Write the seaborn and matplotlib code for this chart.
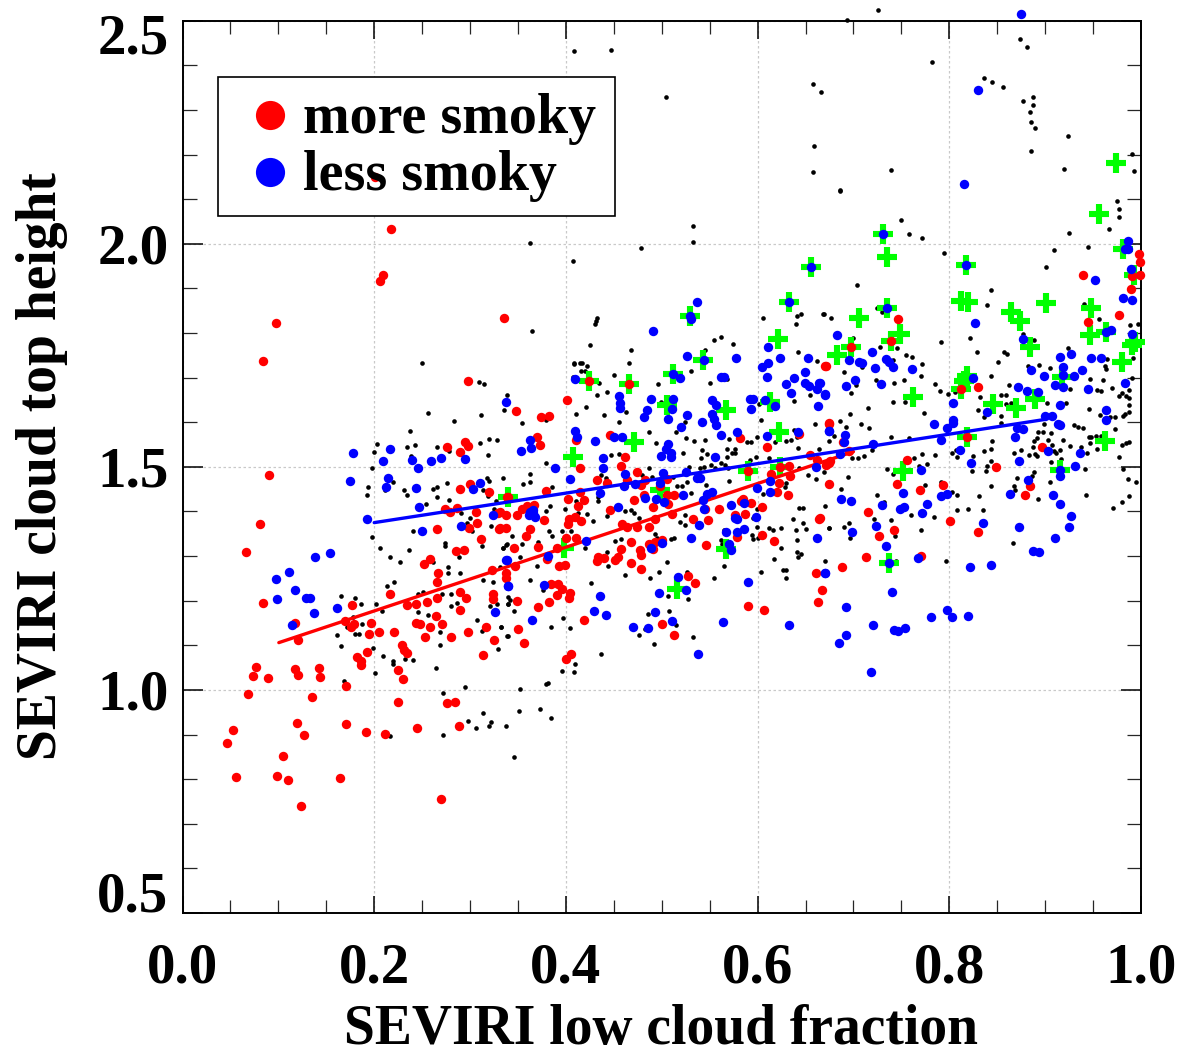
import matplotlib
matplotlib.use("Agg")
import matplotlib.pyplot as plt
import matplotlib.transforms as mtrans
from matplotlib.lines import Line2D
from matplotlib.patches import Rectangle
from matplotlib.ticker import MultipleLocator
import pandas as pd
import seaborn as sns

more_smoky = [(.090,1.482),(.081,1.372),(.066,1.309),(.084,1.195),(.117,1.151),(.121,1.111),(.077,1.051),(.074,1.032),(.089,1.027),(.117,1.047),(.120,1.033),(.142,1.050),(.143,1.028),(.068,.990),(.135,.985),(.171,1.008),(.225,.973),(.276,.970),(.284,.972),(.119,.926),(.053,.911),(.046,.882),(.127,.899),(.171,.924),(.191,.906),(.211,.901),(.245,.914),(.288,.920),(.105,.853),(.056,.805),(.099,.808),(.110,.798),(.164,.802),(.124,.740),(.270,.755),(.177,1.191),(.170,1.154),(.179,1.148),(.176,1.140),(.197,1.151),(.195,1.126),(.205,1.129),(.221,1.130),(.216,1.214),(.234,1.190),(.244,1.193),(.255,1.196),(.266,1.207),(.265,1.242),(.267,1.261),(.252,1.283),(.258,1.293),(.285,1.311),(.294,1.314),(.311,1.339),(.266,1.360),(.299,1.363),(.307,1.375),(.274,1.405),(.279,1.399),(.286,1.408),(.306,1.399),(.289,1.450),(.300,1.461),(.320,1.444),(.329,1.397),(.338,1.393),(.330,1.361),(.338,1.362),(.276,1.545),(.295,1.555),(.298,1.547),(.289,1.533),(.339,1.432),(.264,1.166),(.271,1.148),(.244,1.149),(.248,1.147),(.258,1.142),(.253,1.118),(.280,1.119),(.289,1.180),(.290,1.219),(.296,1.207),(.324,1.216),(.324,1.203),(.323,1.269),(.338,1.261),(.338,1.251),(.298,1.130),(.317,1.141),(.325,1.111),(.314,1.079),(.229,1.101),(.231,1.089),(.234,1.083),(.193,1.084),(.182,1.074),(.186,1.065),(.186,1.055),(.225,1.044),(.230,1.024),
(.098,1.823),(.084,1.738),(.206,1.917),(.209,1.930),(.218,2.034),(.201,2.150),(.335,1.834),(.298,1.693),
(.348,1.626),(.374,1.611),(.382,1.615),(.401,1.650),(.370,1.566),(.373,1.550),(.446,1.572),(.411,1.560),(.462,1.523),(.458,1.502),(.474,1.488),(.415,1.497),(.432,1.470),(.443,1.464),(.464,1.470),(.483,1.470),(.505,1.472),(.478,1.459),(.498,1.457),(.379,1.446),(.340,1.433),(.415,1.443),(.402,1.429),(.419,1.426),(.413,1.412),(.359,1.412),(.354,1.405),(.367,1.414),(.349,1.393),(.331,1.398),(.377,1.381),(.403,1.384),(.410,1.388),(.416,1.378),(.402,1.372),(.446,1.403),(.471,1.426),(.481,1.437),(.491,1.411),(.505,1.437),(.513,1.438),(.506,1.417),(.511,1.394),(.493,1.382),(.487,1.365),(.474,1.366),(.459,1.372),(.464,1.366),(.363,1.361),(.331,1.362),(.358,1.345),(.400,1.341),(.411,1.341),(.346,1.318),(.371,1.320),(.391,1.319),(.380,1.293),(.399,1.281),(.393,1.278),(.347,1.278),(.433,1.299),(.432,1.290),(.440,1.296),(.454,1.297),(.451,1.291),(.457,1.316),(.468,1.331),(.477,1.313),(.478,1.302),(.468,1.284),(.478,1.270),(.487,1.328),(.500,1.337),(.493,1.332),(.491,1.315),(.384,1.238),(.392,1.238),(.396,1.227),(.391,1.213),(.404,1.218),(.403,1.207),(.382,1.198),(.371,1.186),(.349,1.199),(.350,1.136),(.356,1.105),(.405,1.080),(.400,1.070),(.419,1.156),(.500,1.147),(.513,1.124),(.527,1.255),(.535,1.240),(.546,1.325),(.533,1.383),(.548,1.381),(.560,1.405),(.545,1.405),(.576,1.392),(.587,1.395),(.585,1.429),(.583,1.423),(.593,1.420),(.605,1.411),(.579,1.343),(.605,1.347),(.617,1.334),(.590,1.188),(.607,1.179),(.582,1.565),(.610,1.544),(.590,1.491),(.623,1.500),(.633,1.503),(.614,1.485),(.634,1.479),(.622,1.464),(.620,1.443),(.632,1.436),(.674,1.461),(.655,1.526),(.662,1.515),(.674,1.508),(.664,1.384),(.661,1.261),(.667,1.224),(.663,1.198),(.671,1.725),(.675,1.597),(.643,1.573),(.424,1.692),(.466,1.686),
(.998,1.977),(.999,1.959),(.991,1.928),(.999,1.931),(.990,1.899),(.940,1.931),(.977,1.840),(.945,1.824),(.746,1.831),(.697,1.769),(.739,1.783),(.670,1.725),(.812,1.675),(.830,1.678),(.818,1.567),(.675,1.598),(.689,1.555),(.695,1.535),(.676,1.512),(.671,1.505),(.897,1.544),(.849,1.500),(.756,1.515),(.745,1.461),(.769,1.449),(.793,1.459),(.884,1.458),(.879,1.436),(.715,1.399),(.742,1.359),(.727,1.346),(.801,1.378),(.830,1.354),(.713,1.298),(.688,1.276),(.770,1.301),(.665,1.385)]

less_smoky = [(.178,1.531),(.217,1.541),(.209,1.512),(.239,1.515),(.246,1.498),(.259,1.513),(.270,1.519),(.295,1.518),(.175,1.469),(.214,1.476),(.212,1.454),(.244,1.453),(.310,1.464),(.303,1.450),(.247,1.411),(.192,1.384),(.324,1.392),(.250,1.356),(.291,1.367),(.138,1.299),(.154,1.308),(.111,1.265),(.098,1.248),(.117,1.225),(.099,1.204),(.129,1.207),(.133,1.207),(.137,1.172),(.161,1.183),(.114,1.145),(.326,1.175),(.338,1.291),(.340,1.234),
(.537,1.869),(.529,1.838),(.531,1.832),(.491,1.805),(.633,1.870),(.611,1.769),(.526,1.749),(.544,1.740),(.577,1.744),(.623,1.745),(.605,1.724),(.611,1.732),(.653,1.743),(.610,1.701),(.410,1.698),(.512,1.708),(.519,1.700),(.562,1.702),(.565,1.702),(.649,1.713),(.638,1.700),(.630,1.685),(.649,1.689),(.654,1.681),(.664,1.689),(.662,1.674),(.635,1.666),(.670,1.662),(.455,1.659),(.456,1.644),(.456,1.633),(.489,1.652),(.512,1.653),(.511,1.630),(.485,1.627),(.482,1.612),(.507,1.607),(.526,1.616),(.552,1.650),(.557,1.638),(.592,1.653),(.595,1.653),(.593,1.630),(.608,1.649),(.618,1.637),(.663,1.636),(.338,1.646),(.552,1.618),(.555,1.607),(.557,1.594),(.542,1.601),(.520,1.589),(.578,1.577),(.562,1.572),(.610,1.569),(.642,1.577),(.674,1.580),(.409,1.581),(.412,1.568),(.430,1.559),(.450,1.568),(.459,1.567),(.363,1.560),(.364,1.542),(.353,1.536),(.507,1.551),(.504,1.541),(.499,1.525),(.510,1.530),(.510,1.521),(.439,1.520),(.439,1.497),(.389,1.498),(.404,1.473),(.462,1.485),(.501,1.487),(.525,1.488),(.556,1.523),(.537,1.474),(.540,1.476),(.498,1.464),(.461,1.458),(.472,1.461),(.436,1.442),(.522,1.437),(.483,1.430),(.494,1.427),(.502,1.421),(.454,1.411),(.552,1.443),(.547,1.439),(.543,1.426),(.544,1.405),(.572,1.415),(.586,1.418),(.599,1.452),(.613,1.468),(.613,1.444),(.661,1.499),(.598,1.387),(.576,1.385),(.579,1.384),(.539,1.369),(.567,1.354),(.579,1.353),(.586,1.360),(.530,1.340),(.662,1.341),(.421,1.333),(.500,1.329),(.489,1.318),(.570,1.328),(.572,1.314),(.381,1.300),(.339,1.291),(.340,1.234),(.377,1.236),(.436,1.211),(.517,1.252),(.525,1.224),(.497,1.218),(.590,1.242),(.670,1.261),(.429,1.177),(.442,1.169),(.365,1.156),(.493,1.174),(.511,1.155),(.564,1.153),(.633,1.146),(.470,1.140),(.486,1.138),(.538,1.080),(.363,1.399),(.366,1.396),(.368,1.388),(.361,1.392),(.366,1.403),
(.815,2.134),(.731,2.022),(.656,1.948),(.817,1.952),(.986,2.006),(.983,1.989),(.986,1.989),(.990,1.944),(.952,1.919),(.981,1.878),(.991,1.874),(.735,1.857),(.827,1.822),(.964,1.802),(.969,1.806),(.991,1.798),(.877,1.786),(.683,1.795),(.719,1.757),(.695,1.740),(.706,1.734),(.709,1.733),(.722,1.721),(.734,1.742),(.737,1.735),(.741,1.723),(.761,1.719),(.665,1.689),(.670,1.664),(.692,1.682),(.702,1.694),(.729,1.685),(.825,1.700),(.885,1.718),(.899,1.704),(.915,1.747),(.927,1.754),(.948,1.745),(.958,1.745),(.919,1.723),(.919,1.706),(.930,1.703),(.938,1.718),(.910,1.683),(.919,1.679),(.872,1.679),(.881,1.670),(.893,1.668),(.945,1.674),(.983,1.689),(.804,1.643),(.915,1.639),(.839,1.624),(.963,1.627),(.963,1.605),(.804,1.606),(.804,1.598),(.798,1.586),(.784,1.597),(.900,1.615),(.907,1.615),(.913,1.597),(.916,1.593),(.871,1.587),(.877,1.585),(.869,1.568),(.675,1.581),(.691,1.572),(.690,1.556),(.720,1.552),(.791,1.560),(.686,1.529),(.811,1.538),(.903,1.535),(.936,1.530),(.823,1.509),(.873,1.514),(.931,1.501),(.916,1.492),(.915,1.480),(.770,1.493),(.882,1.470),(.752,1.442),(.687,1.428),(.697,1.424),(.863,1.440),(.791,1.435),(.798,1.440),(.908,1.437),(.916,1.417),(.730,1.414),(.777,1.416),(.753,1.411),(.749,1.406),(.772,1.397),(.927,1.390),(.835,1.374),(.925,1.366),(.873,1.366),(.724,1.368),(.698,1.354),(.910,1.340),(.734,1.322),(.887,1.312),(.894,1.310),(.737,1.284),(.767,1.295),(.670,1.262),(.822,1.275),(.844,1.281),(.740,1.219),
(.685,1.105),(.692,1.123),(.692,1.186),(.720,1.146),(.718,1.040),(.742,1.135),(.747,1.131),(.754,1.139),(.781,1.164),(.798,1.179),(.803,1.164),(.820,1.166),(.875,2.516),(.830,2.345)]

highlighted = [(.529,1.838),(.633,1.870),(.424,1.692),(.466,1.686),(.512,1.708),(.543,1.740),(.621,1.786),(.613,1.646),(.505,1.638),(.567,1.627),(.622,1.577),(.471,1.555),(.407,1.522),(.340,1.433),(.590,1.491),(.623,1.500),(.498,1.449),(.398,1.317),(.567,1.315),(.516,1.226),(.656,1.948),
(.731,2.022),(.735,1.971),(.817,1.952),(.974,2.180),(.956,2.067),(.981,1.989),(.993,1.929),(.735,1.857),(.706,1.833),(.948,1.856),(.812,1.871),(.820,1.869),(.864,1.846),(.874,1.826),(.901,1.868),(.947,1.795),(.964,1.802),(.749,1.798),(.739,1.783),(.697,1.769),(.683,1.751),(.884,1.769),(.991,1.773),(.994,1.779),(.980,1.734),(.818,1.703),(.815,1.692),(.812,1.675),(.918,1.701),(.762,1.657),(.846,1.641),(.870,1.633),(.889,1.652),(.818,1.567),(.962,1.559),(.752,1.490),(.916,1.493),(.737,1.284)]

all_scenes = [(.237,1.580),(.203,1.551),(.200,1.534),(.234,1.544),(.243,1.549),(.266,1.544),(.278,1.535),(.310,1.553),(.320,1.562),(.328,1.560),(.319,1.527),(.198,1.497),(.238,1.524),(.194,1.454),(.192,1.438),(.220,1.467),(.231,1.448),(.234,1.438),(.211,1.448),(.261,1.450),(.265,1.455),(.276,1.464),(.266,1.432),(.278,1.426),(.254,1.417),(.318,1.474),(.320,1.469),(.334,1.475),(.313,1.448),(.319,1.435),(.327,1.423),(.325,1.405),(.291,1.396),(.300,1.385),(.297,1.375),(.322,1.367),(.302,1.357),(.241,1.356),(.198,1.342),(.206,1.318),(.236,1.314),(.217,1.297),(.227,1.286),(.274,1.330),(.274,1.323),(.312,1.322),(.334,1.319),(.338,1.325),(.288,1.298),(.261,1.286),(.277,1.276),(.277,1.262),(.289,1.263),(.331,1.275),(.313,1.246),(.324,1.243),(.213,1.234),(.221,1.242),(.246,1.216),(.251,1.219),(.271,1.216),(.280,1.214),(.165,1.211),(.180,1.207),(.186,1.192),(.202,1.193),(.208,1.176),(.246,1.174),(.256,1.169),(.280,1.188),(.286,1.195),(.321,1.189),(.328,1.192),(.340,1.192),(.178,1.164),(.187,1.148),(.172,1.140),(.161,1.124),(.180,1.125),(.184,1.125),(.165,1.098),(.199,1.094),(.209,1.077),(.220,1.065),(.220,1.058),(.232,1.070),(.240,1.068),(.201,1.039),(.264,1.050),(.269,1.130),(.269,1.100),(.307,1.156),(.312,1.131),(.332,1.141),(.340,1.121),(.329,1.092),(.168,1.019),(.295,1.006),(.272,.993),(.298,.931),(.306,.914),(.337,.920),(.272,.899),(.216,.897),
(.432,1.833),(.430,1.821),(.365,1.804),(.425,1.773),(.408,1.733),(.417,1.732),(.422,1.725),(.416,1.715),(.468,1.763),(.466,1.732),(.450,1.706),(.435,1.687),(.443,1.668),(.432,1.662),(.339,1.662),(.421,1.634),(.440,1.616),(.463,1.624),(.411,1.618),(.455,1.600),(.354,1.598),(.379,1.605),(.496,1.685),(.499,1.646),(.550,1.689),(.531,1.714),(.555,1.784),(.562,1.790),(.574,1.776),(.545,1.763),(.568,1.698),(.606,1.834),(.645,1.843),(.641,1.837),(.640,1.821),(.668,1.842),(.642,1.758),(.662,1.737),(.638,1.647),(.655,1.661),(.601,1.641),(.604,1.606),(.660,1.597),(.638,1.583),(.635,1.560),(.630,1.559),(.641,1.566),(.664,1.541),(.642,1.543),(.599,1.567),(.589,1.555),(.593,1.556),(.618,1.555),(.568,1.541),(.576,1.541),(.570,1.562),(.545,1.561),(.525,1.565),(.515,1.578),(.524,1.600),(.487,1.577),(.494,1.553),(.522,1.532),(.534,1.558),(.542,1.538),(.541,1.519),(.547,1.528),(.568,1.523),(.573,1.530),(.576,1.532),(.598,1.521),(.592,1.515),(.612,1.519),(.528,1.500),(.540,1.497),(.544,1.500),(.551,1.504),(.556,1.497),(.562,1.508),(.566,1.504),(.569,1.498),(.487,1.498),(.479,1.482),(.490,1.478),(.512,1.478),(.526,1.467),(.516,1.457),(.521,1.458),(.530,1.441),(.546,1.459),(.570,1.468),(.606,1.440),(.629,1.455),(.630,1.463),(.643,1.497),(.653,1.482),(.661,1.473),(.379,1.509),(.355,1.461),(.363,1.485),(.363,1.465),(.385,1.455),(.447,1.527),(.455,1.529),(.437,1.482),(.442,1.474),(.433,1.433),(.433,1.423),(.411,1.423),(.383,1.412),(.379,1.402),(.399,1.405),(.413,1.396),(.422,1.394),(.428,1.378),(.443,1.390),(.462,1.400),(.468,1.403),(.471,1.396),(.476,1.385),(.524,1.392),(.519,1.376),(.524,1.369),(.493,1.349),(.495,1.341),(.510,1.339),(.513,1.341),(.565,1.358),(.594,1.347),(.600,1.340),(.595,1.339),(.599,1.366),(.599,1.405),(.595,1.385),(.612,1.364),(.616,1.358),(.624,1.363),(.637,1.384),(.643,1.408),(.647,1.407),(.647,1.375),(.650,1.361),(.640,1.358),(.641,1.336),(.674,1.364),(.624,1.319),(.641,1.310),(.645,1.304),(.642,1.297),(.617,1.294),(.604,1.264),(.626,1.269),(.630,1.269),(.630,1.250),(.563,1.328),(.562,1.336),(.565,1.278),(.554,1.251),(.505,1.286),(.497,1.265),(.488,1.251),(.462,1.257),(.444,1.278),(.443,1.310),(.451,1.334),(.458,1.338),(.420,1.319),(.396,1.357),(.405,1.356),(.382,1.357),(.385,1.346),(.344,1.345),(.371,1.332),(.354,1.326),(.339,1.326),(.334,1.319),(.352,1.299),(.370,1.278),(.363,1.246),(.426,1.239),(.376,1.223),(.340,1.209),(.342,1.201),(.340,1.192),(.346,1.176),(.397,1.162),(.384,1.142),(.404,1.138),(.486,1.171),(.508,1.176),(.515,1.145),(.506,1.210),(.527,1.204),(.526,1.265),(.533,1.119),(.476,1.124),(.483,1.136),(.492,1.103),(.437,1.081),(.339,1.121),(.332,1.140),(.410,1.057),(.396,1.042),(.408,1.041),(.379,1.014),(.352,1.003),(.346,.850),(.314,.948),(.322,.928),(.351,.953),(.373,.957),(.384,.937),(.320,.920),(.213,.899),(.381,1.016),
(.885,2.209),(.991,2.201),(.993,2.162),(.920,2.167),(.739,2.165),(.686,2.118),(.975,2.095),(.977,2.077),(.977,2.059),(.967,2.032),(.925,2.024),(.750,2.053),(.758,2.021),(.771,2.014),(.945,1.993),(.909,1.985),(.794,1.979),(.901,1.948),(.704,1.908),(.844,1.896),(.839,1.862),(.941,1.866),(.669,1.843),(.677,1.833),(.730,1.846),(.725,1.856),(.956,1.831),(.989,1.818),(.997,1.821),(.877,1.798),(.888,1.784),(.822,1.789),(.791,1.779),(.700,1.789),(.728,1.769),(.745,1.766),(.829,1.757),(.857,1.757),(.860,1.752),(.851,1.736),(.924,1.766),(.965,1.742),(.992,1.744),(.962,1.727),(.964,1.719),(.755,1.750),(.761,1.747),(.772,1.731),(.741,1.740),(.709,1.724),(.894,1.729),(.905,1.722),(.882,1.725),(.690,1.712),(.694,1.742),(.770,1.704),(.753,1.695),(.724,1.695),(.742,1.688),(.703,1.684),(.843,1.704),(.991,1.700),(.947,1.696),(.960,1.694),(.785,1.686),(.862,1.683),(.790,1.669),(.799,1.664),(.806,1.667),(.697,1.665),(.926,1.674),(.954,1.673),(.958,1.671),(.970,1.677),(.988,1.672),(.980,1.665),(.977,1.658),(.984,1.659),(.988,1.655),(.832,1.657),(.854,1.661),(.859,1.662),(.859,1.641),(.864,1.643),(.741,1.645),(.754,1.645),(.715,1.633),(.830,1.627),(.854,1.613),(.922,1.642),(.902,1.642),(.946,1.629),(.987,1.639),(.988,1.622),(.983,1.619),(.981,1.613),(.957,1.616),(.968,1.612),(.973,1.612),(.696,1.618),(.774,1.620),(.836,1.611),(.854,1.598),(.708,1.597),(.686,1.602),(.692,1.589),(.716,1.588),(.899,1.595),(.930,1.593),(.934,1.590),(.939,1.586),(.973,1.585),(.893,1.579),(.898,1.578),(.906,1.576),(.892,1.565),(.903,1.561),(.919,1.561),(.888,1.557),(.887,1.544),(.907,1.550),(.926,1.546),(.946,1.567),(.953,1.570),(.948,1.568),(.958,1.570),(.947,1.553),(.954,1.541),(.944,1.532),(.937,1.544),(.980,1.550),(.984,1.553),(.988,1.555),(.739,1.568),(.758,1.564),(.674,1.557),(.680,1.570),(.845,1.559),(.844,1.541),(.836,1.536),(.875,1.538),(.868,1.532),(.889,1.529),(.883,1.526),(.891,1.525),(.905,1.538),(.911,1.532),(.916,1.538),(.917,1.518),(.906,1.511),(.909,1.535),(.807,1.538),(.803,1.531),(.808,1.521),(.825,1.525),(.719,1.537),(.711,1.525),(.705,1.520),(.699,1.520),(.771,1.528),(.785,1.526),(.763,1.520),(.777,1.507),(.768,1.502),(.735,1.496),(.741,1.484),(.669,1.488),(.694,1.477),(.687,1.451),(.775,1.460),(.791,1.467),(.803,1.443),(.808,1.436),(.831,1.434),(.843,1.458),(.824,1.490),(.838,1.490),(.843,1.514),(.839,1.502),(.871,1.475),(.867,1.458),(.869,1.447),(.888,1.488),(.886,1.479),(.905,1.466),(.893,1.429),(.943,1.438),(.942,1.496),(.981,1.496),(.986,1.473),(.995,1.467),(.988,1.435),(.980,1.422),(.971,1.408),(.977,1.523),(.820,1.406),(.835,1.403),(.808,1.403),(.784,1.387),(.760,1.393),(.732,1.422),(.725,1.436),(.721,1.383),(.739,1.380),(.695,1.375),(.690,1.366),(.674,1.364),(.696,1.340),(.743,1.346),(.770,1.358),(.866,1.329),(.797,1.288),(.744,1.290),(.670,1.288),(.670,1.413),
(.408,2.433),(.447,2.435),(.504,2.330),(.693,2.502),(.726,2.525),(.782,2.408),(.836,2.372),(.845,2.363),(.856,2.352),(.877,2.321),(.887,2.330),(.887,2.312),(.884,2.296),(.885,2.274),(.889,2.260),(.924,2.242),(.874,2.460),(.881,2.442),(.658,2.357),(.666,2.341),(.659,2.220),(.658,2.161),(.686,2.121),(.363,2.002),(.407,1.962),(.478,1.991),(.533,2.040),(.533,2.004),(.250,1.733),(.256,1.621),(.309,1.691),(.315,1.686),(.431,1.828),(.408,1.731),(.415,1.733),(.420,1.715),(.407,1.702),(.283,1.603),(.335,1.628),(.311,1.617)]

more_fit_x = [.1005, .70]
more_fit_y = [1.106, 1.534]
less_fit_x = [.200, .899]
less_fit_y = [1.375, 1.606]

x_ticks = [0.0, 0.2, 0.4, 0.6, 0.8, 1.0]
y_ticks = [0.5, 1.0, 1.5, 2.0, 2.5]
x_title = "SEVIRI low cloud fraction"
y_title = "SEVIRI cloud top height"
series_names = ["more smoky", "less smoky"]

RED, BLUE, GREEN = "#ff0000", "#0000ff", "#00ff00"
SERIF = ["Liberation Serif", "DejaVu Serif"]


def frame(pairs):
    return pd.DataFrame(pairs, columns=["fraction", "height"])


sns.set_theme(style="white")
plt.rcParams["font.family"] = SERIF
plt.rcParams["font.weight"] = "bold"

W, H = 1179, 1048
fig = plt.figure(figsize=(W / 100, H / 100), dpi=100, facecolor="white")
L, R, T, B = 182.5, 1141, 20.7, 913
ax = fig.add_axes([L / W, 1 - B / H, (R - L) / W, (B - T) / H])
ax.set_facecolor("white")

kw = dict(x="fraction", y="height", ax=ax, legend=False, clip_on=False)
sns.scatterplot(data=frame(all_scenes), color="black", s=11, linewidth=0, zorder=3, **kw)
sns.scatterplot(data=frame(highlighted), color=GREEN, marker="+", s=215, linewidth=4.4, zorder=4, **kw)
sns.scatterplot(data=frame(more_smoky), color=RED, s=46, linewidth=0, zorder=5, **kw)
sns.lineplot(x=more_fit_x, y=more_fit_y, color=RED, lw=2.4, ax=ax, zorder=6, errorbar=None)
sns.scatterplot(data=frame(less_smoky), color=BLUE, s=46, linewidth=0, zorder=7, **kw)
sns.lineplot(x=less_fit_x, y=less_fit_y, color=BLUE, lw=2.4, ax=ax, zorder=8, errorbar=None)

ax.set_xlim(0, 1)
ax.set_ylim(0.5, 2.5)
ax.set_xlabel("")
ax.set_ylabel("")
ax.set_xticks(x_ticks)
ax.set_yticks(y_ticks)
ax.set_xticklabels([f"{v:.1f}" for v in x_ticks])
ax.set_yticklabels([f"{v:.1f}" for v in y_ticks])
ax.xaxis.set_minor_locator(MultipleLocator(0.05))
ax.yaxis.set_minor_locator(MultipleLocator(0.1))
ax.grid(True, which="major", color="#c9c9c9", lw=0.9, ls=(0, (2, 2)), zorder=1)
ax.set_axisbelow(True)
ax.tick_params(axis="x", which="major", direction="in", length=12.6, width=1.1, top=True, bottom=True,
               labelsize=41, pad=21, colors="black")
ax.tick_params(axis="x", which="minor", direction="in", length=9.1, width=0.9, top=True, bottom=True)
ax.tick_params(axis="y", which="major", direction="in", length=14.5, width=1.1, left=True, right=True,
               labelsize=41, pad=10, colors="black")
ax.tick_params(axis="y", which="minor", direction="in", length=10, width=0.9, left=True, right=True)
for spine in ax.spines.values():
    spine.set_visible(True)
    spine.set_color("black")
    spine.set_linewidth(1.4)

labels = ax.get_yticklabels()
labels[0].set_transform(labels[0].get_transform() + mtrans.Affine2D().translate(0, 22))
labels[-1].set_transform(labels[-1].get_transform() + mtrans.Affine2D().translate(0, -13))
for lab in ax.get_xticklabels() + ax.get_yticklabels():
    lab.set_fontweight("bold")

fig.text(661 / W, 1 - 1044 / H, x_title, ha="center", va="baseline", fontsize=40, fontweight="bold", color="black")
fig.text(42 / W, 1 - 466 / H, y_title, ha="center", va="center", rotation=90, fontsize=40, fontweight="bold", color="black")

box = Rectangle((217.5 / W, 1 - 216 / H), (615 - 217.5) / W, (216 - 77) / H, transform=fig.transFigure,
                facecolor="white", edgecolor="black", lw=1.2, zorder=2, clip_on=False)
ax.add_patch(box)
handles = [Line2D([], [], ls="none", marker="o", color=c, markersize=21, markeredgewidth=0) for c in (RED, BLUE)]
leg = ax.legend(handles, series_names, loc="upper left", bbox_to_anchor=(217.5 / W, 1 - 73.5 / H),
                bbox_transform=fig.transFigure, frameon=False, prop={"family": SERIF, "weight": "bold", "size": 40.3},
                handletextpad=0.01, labelspacing=0.09, borderpad=0.35, borderaxespad=0, handlelength=1.17,
                handleheight=0.56, labelcolor="black")
leg.set_zorder(10)

fig.savefig("out.png", dpi=100, facecolor="white")
